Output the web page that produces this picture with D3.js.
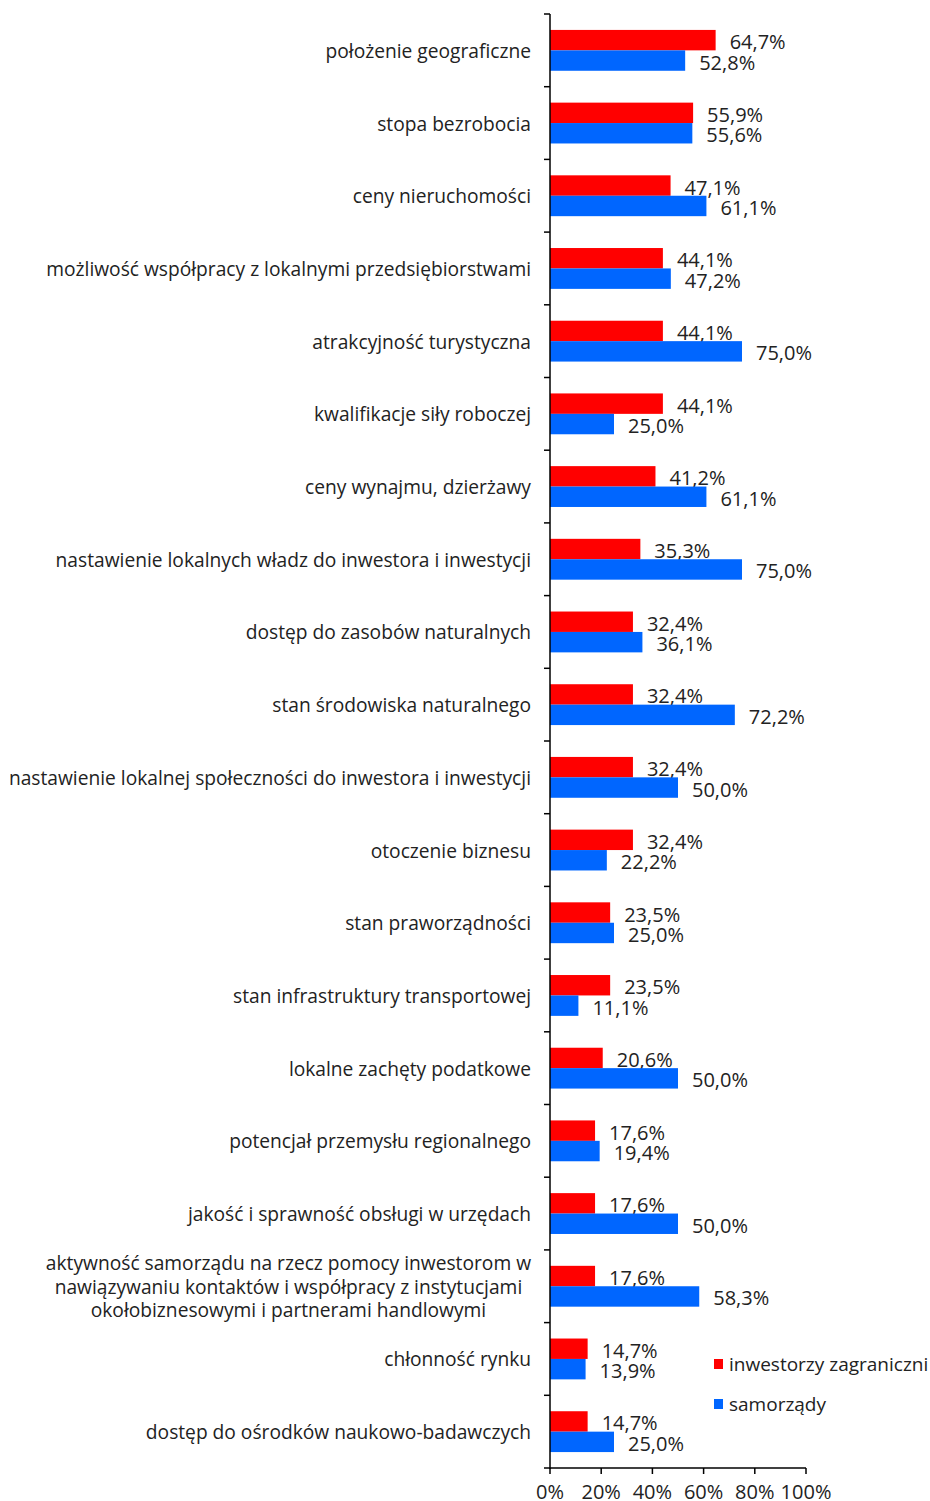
<!DOCTYPE html>
<html><head><meta charset="utf-8">
<script src="https://cdn.jsdelivr.net/npm/d3@7/dist/d3.min.js"></script>
<style>
body{margin:0;background:#fff;}
text{font-family:"Open Sans",sans-serif;fill:#222;}
</style></head><body>
<svg id="c" width="930" height="1501"></svg>
<script>
const categories = [
  "położenie geograficzne",
  "stopa bezrobocia",
  "ceny nieruchomości",
  "możliwość współpracy z lokalnymi przedsiębiorstwami",
  "atrakcyjność turystyczna",
  "kwalifikacje siły roboczej",
  "ceny wynajmu, dzierżawy",
  "nastawienie lokalnych władz do inwestora i inwestycji",
  "dostęp do zasobów naturalnych",
  "stan środowiska naturalnego",
  "nastawienie lokalnej społeczności do inwestora i inwestycji",
  "otoczenie biznesu",
  "stan praworządności",
  "stan infrastruktury transportowej",
  "lokalne zachęty podatkowe",
  "potencjał przemysłu regionalnego",
  "jakość i sprawność obsługi w urzędach",
  "aktywność samorządu na rzecz pomocy inwestorom w|nawiązywaniu kontaktów i współpracy z instytucjami|okołobiznesowymi i partnerami handlowymi",
  "chłonność rynku",
  "dostęp do ośrodków naukowo-badawczych"
];
const seriesNames = ["inwestorzy zagraniczni", "samorządy"];
const investors = [64.7,55.9,47.1,44.1,44.1,44.1,41.2,35.3,32.4,32.4,32.4,32.4,23.5,23.5,20.6,17.6,17.6,17.6,14.7,14.7];
const localGov  = [52.8,55.6,61.1,47.2,75.0,25.0,61.1,75.0,36.1,72.2,50.0,22.2,25.0,11.1,50.0,19.4,50.0,58.3,13.9,25.0];
const xTicks = [0,20,40,60,80,100];
const colors = ["#ff0000", "#0066ff"];

const svg = d3.select("#c");
const x = d3.scaleLinear().domain([0,100]).range([550,806]);
const y = d3.scaleBand().domain(d3.range(categories.length)).range([14,1468]).padding(0);
const sub = d3.scaleBand().domain([0,1]).range([0,y.bandwidth()]).paddingInner(0).paddingOuter(0.78);
const color = d3.scaleOrdinal().domain([0,1]).range(colors);
const fmt = v => d3.format(".1f")(v).replace(".", ",") + "%";

const rows = categories.map((c,i)=>({c, i, vals:[investors[i], localGov[i]]}));

// bars
const g = svg.append("g");
rows.forEach(r=>{
  r.vals.forEach((v,s)=>{
    const yy = y(r.i) + sub(s);
    g.append("rect").attr("x", x(0)).attr("y", yy)
      .attr("width", x(v)-x(0)).attr("height", sub.bandwidth())
      .attr("fill", color(s));
    g.append("text").attr("x", x(v)+14).attr("y", yy + sub.bandwidth()/2 + 1.5)
      .attr("dominant-baseline","central").attr("font-size",20).text(fmt(v));
  });
});

// y axis
const yAxis = svg.append("g");
yAxis.append("line").attr("x1",550).attr("x2",550).attr("y1",14).attr("y2",1469).attr("stroke","#000").attr("stroke-width",1.5);
d3.range(categories.length+1).forEach(i=>{
  const yy = i<categories.length ? y(i) : 1468;
  yAxis.append("line").attr("x1",544).attr("x2",550).attr("y1",yy).attr("y2",yy).attr("stroke","#000").attr("stroke-width",1.5);
});
rows.forEach(r=>{
  const lines = r.c.split("|");
  const cy = y(r.i) + y.bandwidth()/2;
  if(lines.length===1){
    yAxis.append("text").attr("x",531).attr("y",cy).attr("text-anchor","end")
      .attr("dominant-baseline","central").attr("font-size",19.2).text(lines[0]);
  } else {
    const t = yAxis.append("text").attr("text-anchor","middle").attr("font-size",19.2);
    const lh = 23.5;
    lines.forEach((l,k)=>{
      t.append("tspan").attr("y", cy + (k-(lines.length-1)/2)*lh).attr("dominant-baseline","central").text(l);
    });
    let mw = 0;
    t.selectAll("tspan").each(function(){ mw = Math.max(mw, this.getComputedTextLength()); });
    t.selectAll("tspan").attr("x", 531 - mw/2);
  }
});

// x axis
const xa = svg.append("g").attr("transform","translate(0,1468)");
xa.append("line").attr("x1",x(0)).attr("x2",x(100)).attr("stroke","#000").attr("stroke-width",1.5);
xTicks.forEach(t=>{
  xa.append("line").attr("x1",x(t)).attr("x2",x(t)).attr("y1",0).attr("y2",6).attr("stroke","#000").attr("stroke-width",1.5);
  xa.append("text").attr("x",x(t)).attr("y",23).attr("text-anchor","middle").attr("dominant-baseline","central").attr("font-size",20).text(t+"%");
});

// legend
const leg = svg.append("g");
seriesNames.forEach((n,s)=>{
  const ly = 1364 + s*40;
  leg.append("rect").attr("x",714).attr("y",ly-5).attr("width",9).attr("height",10).attr("fill",color(s));
  leg.append("text").attr("x",729).attr("y",ly).attr("dominant-baseline","central").attr("font-size",19).text(n);
});
</script>
</body></html>
